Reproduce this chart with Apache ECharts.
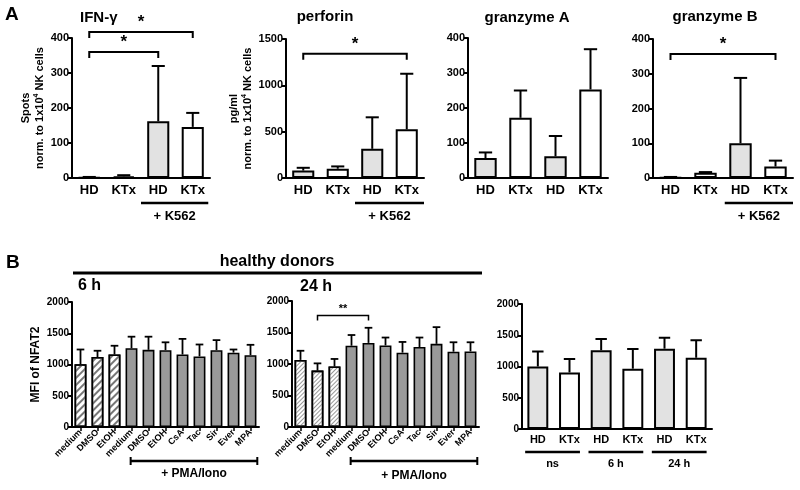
<!DOCTYPE html>
<html><head><meta charset="utf-8">
<script src="https://cdn.jsdelivr.net/npm/echarts@6/dist/echarts.min.js"></script>
<style>html,body{margin:0;padding:0;background:#fff}#c{width:800px;height:490px}</style>
</head><body><div id="c"></div>
<script>
// ---------- DATA ----------
const catA = ['HD', 'KTx', 'HD', 'KTx'];
const ifnMean = [2, 5, 162, 146];
const ifnUpper = [3, 8, 320, 186];
const perfMean = [80, 100, 315, 525];
const perfUpper = [110, 125, 655, 1125];
const gzaMean = [57, 172, 62, 253];
const gzaUpper = [73, 250, 120, 368];
const gzbMean = [2, 15, 100, 33];
const gzbUpper = [3, 17, 288, 50];
const ifnTicks = [0, 400, 100];
const perfTicks = [0, 1500, 500];
const gzTicks = [0, 400, 100];

const catB = ['medium', 'DMSO', 'EtOH', 'medium', 'DMSO', 'EtOH', 'CsA', 'Tac', 'Sir', 'Ever', 'MPA'];
const b6Mean = [1005, 1120, 1160, 1260, 1235, 1230, 1160, 1130, 1230, 1190, 1150];
const b6Upper = [1240, 1220, 1300, 1445, 1445, 1355, 1410, 1320, 1390, 1240, 1315];
const b24Mean = [1065, 895, 960, 1290, 1335, 1295, 1180, 1270, 1320, 1195, 1200];
const b24Upper = [1210, 1010, 1080, 1460, 1575, 1420, 1350, 1420, 1585, 1345, 1345];
const bHatched = [true, true, true, false, false, false, false, false, false, false, false];

const catB3 = ['HD', 'KTx', 'HD', 'KTx', 'HD', 'KTx'];
const b3Mean = [1000, 905, 1260, 965, 1285, 1140];
const b3Upper = [1240, 1120, 1440, 1280, 1460, 1420];
const bTicks = [0, 2000, 500];

// significance brackets: [from, to, level, label]
const ifnBrackets = [[0, 3, 417, '*'], [0, 2, 360, '*']];
const perfBrackets = [[0, 3, 1340, '*']];
const gzbBrackets = [[0, 3, 357, '*']];
const b24Brackets = [[1, 4, 1770, '**']];
// group labels: [from, to, text]
const k562Group = [[2, 3, '+ K562']];
const pmaGroup = [[3, 10, '+ PMA/Iono']];
const b3Groups = [[0, 1, 'ns'], [2, 3, '6 h'], [4, 5, '24 h']];

// ---------- CHART ----------
const FONT = '"Liberation Sans", Arial, Helvetica, sans-serif';
const chart = echarts.init(document.getElementById('c'), null, {renderer: 'canvas'});

const grids = [
  {left: 72, top: 38, width: 138, height: 140},
  {left: 286, top: 39, width: 138, height: 139},
  {left: 468, top: 38, width: 140, height: 140},
  {left: 653, top: 39, width: 140, height: 139},
  {left: 72, top: 302, width: 187, height: 125},
  {left: 292, top: 301, width: 187, height: 126},
  {left: 522, top: 304, width: 190, height: 125}
];

const colHD = '#e2e2e2', colKT = '#ffffff', colDark = '#9a9a9a';

function xAx(i, data, opts) {
  return Object.assign({
    type: 'category', gridIndex: i, data: data,
    axisLine: {show: true, onZero: false, lineStyle: {color: '#000', width: 2}},
    axisTick: {show: false},
    axisLabel: {color: '#000', fontWeight: 'bold', fontSize: 13, fontFamily: FONT, margin: 6, interval: 0}
  }, opts || {});
}
function yAx(i, t, fs, name, gap) {
  const a = {
    type: 'value', gridIndex: i, min: t[0], max: t[1], interval: t[2],
    axisLine: {show: true, onZero: false, lineStyle: {color: '#000', width: 2}},
    axisTick: {show: true, length: 4, lineStyle: {color: '#000', width: 2}},
    splitLine: {show: false},
    axisLabel: {color: '#000', fontWeight: 'bold', fontSize: fs, fontFamily: FONT, margin: 3,
      formatter: v => String(v)}
  };
  if (name) {
    a.name = name; a.nameLocation = 'middle'; a.nameGap = gap; a.nameRotate = 90;
    a.nameTextStyle = {
      color: '#000', fontFamily: FONT, fontWeight: 'bold', fontSize: 11, lineHeight: 14,
      rich: {
        n: {fontSize: 11, fontWeight: 'bold', fontFamily: FONT, color: '#000', lineHeight: 14},
        s: {fontSize: 7, fontWeight: 'bold', fontFamily: FONT, color: '#000', lineHeight: 14, verticalAlign: 'top'},
        t: {fontSize: 12, fontWeight: 'bold', fontFamily: FONT, color: '#000', lineHeight: 14}
      }
    };
  }
  return a;
}

const stripe = {symbol: 'rect', symbolSize: 1, dashArrayX: [1, 0], dashArrayY: [1.5, 3], rotation: -Math.PI / 4, color: '#777'};
const fine = {symbol: 'rect', symbolSize: 1, dashArrayX: [1, 0], dashArrayY: [1, 1.2], rotation: -Math.PI / 4, color: '#999'};

function barSeries(i, cats, means, colorFn, bw, borderW, decalFn) {
  return {
    type: 'bar', xAxisIndex: i, yAxisIndex: i, barWidth: bw, z: 2,
    data: means.map((v, k) => {
      const it = {value: v, itemStyle: {color: colorFn(k)}};
      const d = decalFn ? decalFn(k) : null;
      if (d) it.itemStyle.decal = d;
      return it;
    }),
    itemStyle: {borderColor: '#000', borderWidth: borderW}
  };
}
function errSeries(i, means, uppers, capRatio, lw) {
  return {
    type: 'custom', xAxisIndex: i, yAxisIndex: i, z: 3, clip: false,
    encode: {x: 0, y: [1, 2]},
    data: means.map((m, k) => [k, m, uppers[k]]),
    renderItem: function (params, api) {
      const k = api.value(0), m = api.value(1), u = api.value(2);
      const p0 = api.coord([k, m]), p1 = api.coord([k, u]);
      const cw = api.size([1, 0])[0] * capRatio;
      return {type: 'group', children: [
        {type: 'line', shape: {x1: p0[0], y1: p0[1], x2: p1[0], y2: p1[1]}, style: {stroke: '#000', lineWidth: lw}},
        {type: 'line', shape: {x1: p1[0] - cw / 2, y1: p1[1], x2: p1[0] + cw / 2, y2: p1[1]}, style: {stroke: '#000', lineWidth: lw}}
      ]};
    }
  };
}
function bracketSeries(i, br, tick, font, lw) {
  return {
    type: 'custom', xAxisIndex: i, yAxisIndex: i, z: 4, clip: false,
    encode: {x: [0, 1], y: 2},
    data: br.map(b => [b[0], b[1], b[2]]),
    renderItem: function (params, api) {
      const lbl = br[params.dataIndex][3];
      const p1 = api.coord([api.value(0), api.value(2)]);
      const p2 = api.coord([api.value(1), api.value(2)]);
      return {type: 'group', children: [
        {type: 'polyline', shape: {points: [[p1[0], p1[1] + tick], [p1[0], p1[1]], [p2[0], p2[1]], [p2[0], p2[1] + tick]]},
          style: {stroke: '#000', lineWidth: lw, fill: null}},
        {type: 'text', x: (p1[0] + p2[0]) / 2, y: p1[1] - 1,
          style: {text: lbl, font: font, fill: '#000', align: 'center', verticalAlign: 'bottom'}}
      ]};
    }
  };
}
function groupSeries(i, grp, lineOff, textOff, lExt, rExt, font, caps) {
  return {
    type: 'custom', xAxisIndex: i, yAxisIndex: i, z: 4, clip: false,
    encode: {x: [0, 1]},
    data: grp.map(g => [g[0], g[1], 0]),
    renderItem: function (params, api) {
      const txt = grp[params.dataIndex][2];
      const p1 = api.coord([api.value(0), 0]), p2 = api.coord([api.value(1), 0]);
      const bw = api.size([1, 0])[0];
      const x1 = p1[0] - bw * lExt, x2 = p2[0] + bw * rExt, y = p1[1] + lineOff;
      const ch = [
        {type: 'line', shape: {x1: x1, y1: y, x2: x2, y2: y}, style: {stroke: '#000', lineWidth: 2.5}},
        {type: 'text', x: (x1 + x2) / 2, y: p1[1] + textOff,
          style: {text: txt, font: font, fill: '#000', align: 'center', verticalAlign: 'middle'}}
      ];
      if (caps) {
        ch.push({type: 'line', shape: {x1: x1, y1: y - 4, x2: x1, y2: y + 4}, style: {stroke: '#000', lineWidth: 2}});
        ch.push({type: 'line', shape: {x1: x2, y1: y - 4, x2: x2, y2: y + 4}, style: {stroke: '#000', lineWidth: 2}});
      }
      return {type: 'group', children: ch};
    }
  };
}

const aColor = k => (catA[k] === 'HD' ? colHD : colKT);
const b3Color = k => (catB3[k] === 'HD' ? colHD : colKT);
const bColor = k => (bHatched[k] ? '#ffffff' : colDark);

const nameA = '{n|Spots}\n{n|norm. to 1x10}{s|4}{n| NK cells}';
const nameP = '{n|pg/ml}\n{n|norm. to 1x10}{s|4}{n| NK cells}';
const bLabel = {color: '#000', fontWeight: 'bold', fontSize: 9, fontFamily: FONT, margin: 4, rotate: 45, interval: 0};
const bTick = {show: true, alignWithLabel: true, length: 4, lineStyle: {color: '#000', width: 1.5}};

const starFont = 'bold 17px ' + FONT;
const bigT = 'bold 15px ' + FONT;

const option = {
  animation: false,
  backgroundColor: '#fff',
  grid: grids,
  xAxis: [
    xAx(0, catA), xAx(1, catA), xAx(2, catA), xAx(3, catA),
    xAx(4, catB, {axisTick: bTick, axisLabel: bLabel}),
    xAx(5, catB, {axisTick: bTick, axisLabel: bLabel}),
    xAx(6, catB3, {axisLabel: {color: '#000', fontWeight: 'bold', fontSize: 11, fontFamily: FONT, margin: 5, interval: 0}})
  ],
  yAxis: [
    yAx(0, ifnTicks, 11, nameA, 22),
    yAx(1, perfTicks, 11, nameP, 31),
    yAx(2, gzTicks, 11),
    yAx(3, gzTicks, 11),
    yAx(4, bTicks, 10, '{t|MFI of NFAT2}', 29),
    yAx(5, bTicks, 10),
    yAx(6, bTicks, 10)
  ],
  series: [
    barSeries(0, catA, ifnMean, aColor, '64%', 2),
    errSeries(0, ifnMean, ifnUpper, 0.38, 2),
    bracketSeries(0, ifnBrackets, 6, starFont, 2),
    groupSeries(0, k562Group, 25, 38, 0.5, 0.45, 'bold 13px ' + FONT),

    barSeries(1, catA, perfMean, aColor, '64%', 2),
    errSeries(1, perfMean, perfUpper, 0.38, 2),
    bracketSeries(1, perfBrackets, 6, starFont, 2),
    groupSeries(1, k562Group, 25, 38, 0.5, 0.5, 'bold 13px ' + FONT),

    barSeries(2, catA, gzaMean, aColor, '64%', 2),
    errSeries(2, gzaMean, gzaUpper, 0.38, 2),

    barSeries(3, catA, gzbMean, aColor, '64%', 2),
    errSeries(3, gzbMean, gzbUpper, 0.38, 2),
    bracketSeries(3, gzbBrackets, 6, starFont, 2),
    groupSeries(3, k562Group, 25, 38, 0.45, 0.5, 'bold 13px ' + FONT),

    barSeries(4, catB, b6Mean, bColor, '70%', 1.6, k => (bHatched[k] ? stripe : null)),
    errSeries(4, b6Mean, b6Upper, 0.45, 1.8),
    groupSeries(4, pmaGroup, 34, 47, 0.05, 0.4, 'bold 12px ' + FONT, true),

    barSeries(5, catB, b24Mean, bColor, '70%', 1.6, k => (bHatched[k] ? fine : null)),
    errSeries(5, b24Mean, b24Upper, 0.45, 1.8),
    bracketSeries(5, b24Brackets, 5, 'bold 11px ' + FONT, 1.5),
    groupSeries(5, pmaGroup, 34, 49, 0.05, 0.4, 'bold 12px ' + FONT, true),

    barSeries(6, catB3, b3Mean, b3Color, '66%', 2),
    errSeries(6, b3Mean, b3Upper, 0.36, 2),
    groupSeries(6, b3Groups, 23, 35, 0.4, 0.33, 'bold 11px ' + FONT)
  ],
  graphic: [
    {type: 'text', x: 5, y: 15, style: {text: 'A', font: 'bold 19px ' + FONT, fill: '#000', align: 'left', verticalAlign: 'middle'}},
    {type: 'text', x: 80, y: 18, style: {text: 'IFN-γ', font: bigT, fill: '#000', align: 'left', verticalAlign: 'middle'}},
    {type: 'text', x: 325, y: 17, style: {text: 'perforin', font: bigT, fill: '#000', align: 'center', verticalAlign: 'middle'}},
    {type: 'text', x: 527, y: 18, style: {text: 'granzyme A', font: bigT, fill: '#000', align: 'center', verticalAlign: 'middle'}},
    {type: 'text', x: 715, y: 17, style: {text: 'granzyme B', font: bigT, fill: '#000', align: 'center', verticalAlign: 'middle'}},
    {type: 'text', x: 6, y: 263, style: {text: 'B', font: 'bold 19px ' + FONT, fill: '#000', align: 'left', verticalAlign: 'middle'}},
    {type: 'text', x: 277, y: 262, style: {text: 'healthy donors', font: 'bold 16px ' + FONT, fill: '#000', align: 'center', verticalAlign: 'middle'}},
    {type: 'line', shape: {x1: 73, y1: 273, x2: 482, y2: 273}, style: {stroke: '#000', lineWidth: 3}},
    {type: 'text', x: 78, y: 286, style: {text: '6 h', font: 'bold 16px ' + FONT, fill: '#000', align: 'left', verticalAlign: 'middle'}},
    {type: 'text', x: 300, y: 287, style: {text: '24 h', font: 'bold 16px ' + FONT, fill: '#000', align: 'left', verticalAlign: 'middle'}}
  ]
};
chart.setOption(option);
</script>
</body></html>
